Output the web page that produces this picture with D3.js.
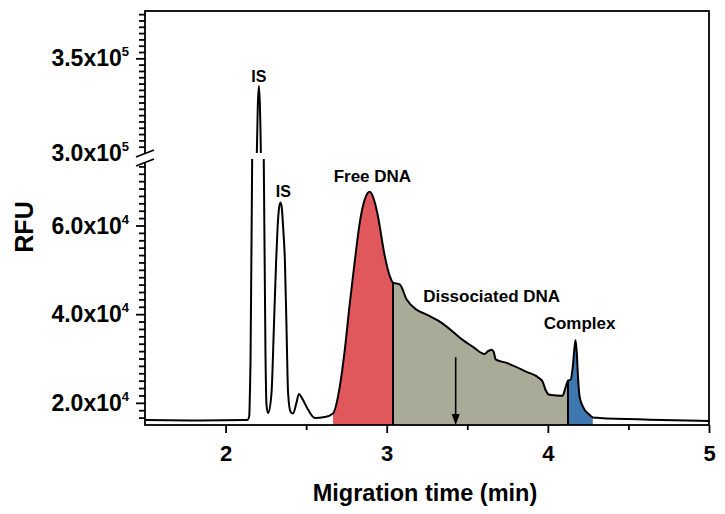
<!DOCTYPE html>
<html>
<head>
<meta charset="utf-8">
<script src="https://cdn.jsdelivr.net/npm/d3@7"></script>
<style>
  body { margin: 0; background: #fff; }
  text { font-family: "Liberation Sans", Arial, sans-serif; font-weight: bold; fill: #000; }
</style>
</head>
<body>
<svg id="chart" width="725" height="514"></svg>
<script>
// electropherogram trace (min, RFU)
var time = [1.500, 1.841, 2.120, 2.138, 2.147, 2.151, 2.155, 2.165, 2.194, 2.200, 2.207, 2.213, 2.219, 2.237, 2.248, 2.254, 2.264,
            2.285, 2.300, 2.314, 2.323, 2.332, 2.341, 2.349, 2.357, 2.368, 2.378, 2.388, 2.403,
            2.418, 2.440, 2.455, 2.475, 2.510, 2.554, 2.616,
            2.667, 2.709, 2.740, 2.771, 2.802, 2.833, 2.864, 2.895, 2.926, 2.945, 2.988, 3.019, 3.039,
            3.081, 3.124, 3.186, 3.248, 3.329, 3.409, 3.471, 3.533, 3.608, 3.626, 3.651, 3.664, 3.676, 3.744, 3.868, 3.949, 3.967, 3.986, 4.011, 4.091, 4.110,
            4.125, 4.141, 4.155, 4.166, 4.172, 4.180, 4.187, 4.197, 4.218, 4.259, 4.279,
            4.321, 4.631, 5.000];
var rfu = [16100, 16000, 16100, 16200, 17000, 22200, 29700, 75000, 300000, 325000, 335400, 325000, 300000, 75000, 30000, 19500, 17700,
           22200, 37200, 52200, 59700, 64000, 65200, 64000, 59700, 52200, 37200, 22200, 18000,
           17600, 20000, 22000, 21000, 18600, 16600, 16800,
           17600, 23700, 32000, 42500, 52000, 60700, 65900, 67600, 65200, 62200, 53100, 48600, 47100,
           46700, 43300, 41000, 39900, 38300, 36100, 34200, 32700, 31000, 31600, 32000, 31500, 29800, 29000, 27000, 25500, 24800, 22900, 21800, 21600, 23500,
           25000, 25200, 28200, 32700, 34100, 31000, 25900, 21400, 19100, 17300, 16700,
           16600, 16200, 15900];

// shaded zones: free DNA, dissociated DNA, complex
var zoneStart = [2.667, 3.039, 4.125];
var zoneEnd   = [3.039, 4.125, 4.279];

var labelText = ["IS", "IS", "Free DNA", "Dissociated DNA", "Complex"];
var labelT    = [2.207, 2.359, 2.911, 3.651, 4.197];
var labelV    = [337500, 66400, 69800, 42700, 36700];

var arrowT = 3.428, arrowTop = 30300;

var xMajor = [2, 3, 4, 5];
var xMinor = [2.5, 3.5, 4.5];
var yMajor = [20000, 40000, 60000, 300000, 350000];

// broken axis: low part and high part
var lowDomain = [15000, 75000];
var highDomain = [300000, 375000];

var zoneColor = ["#e0585b", "#aaaa99", "#3f77b1"];

var svg = d3.select("#chart");
var left = 145, right = 709, plotTop = 11, bottom = 425;
var lowTop = 159, highBottom = 153;

var x = d3.scaleLinear().domain([1.5, 5]).range([left, right]);
var yLow = d3.scaleLinear().domain(lowDomain).range([bottom, lowTop]);
var yHigh = d3.scaleLinear().domain(highDomain).range([highBottom, plotTop]);
var yAxisScale = d3.scaleLinear()
    .domain([lowDomain[0], lowDomain[1], highDomain[0], highDomain[1]])
    .range([bottom, lowTop, highBottom, plotTop]);

var pts = time.map(function(t, i) { return [t, rfu[i]]; });

var defs = svg.append("defs");
defs.append("clipPath").attr("id", "clipLow").append("rect")
    .attr("x", left).attr("y", lowTop).attr("width", right - left).attr("height", bottom - lowTop);
defs.append("clipPath").attr("id", "clipHigh").append("rect")
    .attr("x", left).attr("y", plotTop).attr("width", right - left).attr("height", highBottom - plotTop);

// filled zones
var area = d3.area()
    .x(function(d) { return x(d[0]); })
    .y0(yLow(lowDomain[0]))
    .y1(function(d) { return yLow(d[1]); })
    .curve(d3.curveMonotoneX);

zoneStart.forEach(function(s, i) {
  var sub = pts.filter(function(d) { return d[0] >= s - 1e-6 && d[0] <= zoneEnd[i] + 1e-6; });
  svg.append("path")
      .attr("d", area(sub))
      .attr("fill", zoneColor[i])
      .attr("clip-path", "url(#clipLow)");
});

// black separators between zones
[zoneStart[1], zoneStart[2]].forEach(function(s) {
  var v = rfu[time.indexOf(s)];
  svg.append("line")
      .attr("x1", x(s)).attr("x2", x(s))
      .attr("y1", yLow(v)).attr("y2", yLow(lowDomain[0]))
      .attr("stroke", "#000").attr("stroke-width", 2);
});

// trace, once per axis part
var lineLow = d3.line().x(function(d) { return x(d[0]); }).y(function(d) { return yLow(d[1]); }).curve(d3.curveMonotoneX);
var lineHigh = d3.line().x(function(d) { return x(d[0]); }).y(function(d) { return yHigh(d[1]); }).curve(d3.curveMonotoneX);

svg.append("path").attr("d", lineLow(pts))
    .attr("fill", "none").attr("stroke", "#000").attr("stroke-width", 2)
    .attr("clip-path", "url(#clipLow)");
svg.append("path").attr("d", lineHigh(pts))
    .attr("fill", "none").attr("stroke", "#000").attr("stroke-width", 2)
    .attr("clip-path", "url(#clipHigh)");

// arrow
var ax = x(arrowT), ayTop = yLow(arrowTop), ayTip = yLow(lowDomain[0]);
svg.append("line")
    .attr("x1", ax).attr("x2", ax).attr("y1", ayTop).attr("y2", ayTip - 8)
    .attr("stroke", "#000").attr("stroke-width", 1.6);
svg.append("path")
    .attr("d", "M" + (ax - 4) + "," + (ayTip - 11) + "L" + (ax + 4) + "," + (ayTip - 11) + "L" + ax + "," + ayTip + "Z")
    .attr("fill", "#000");

// frame
svg.append("rect")
    .attr("x", left).attr("y", plotTop).attr("width", right - left).attr("height", bottom - plotTop)
    .attr("fill", "none").attr("stroke", "#000").attr("stroke-width", 1.8);

// x axis
var gx = svg.append("g").attr("transform", "translate(0," + bottom + ")");
gx.call(d3.axisBottom(x).tickValues(xMajor).tickSize(8).tickSizeOuter(0).tickPadding(12).tickFormat(d3.format("d")));
gx.append("g").call(d3.axisBottom(x).tickValues(xMinor).tickSize(5).tickSizeOuter(0).tickFormat(""));
gx.selectAll(".domain").remove();
gx.selectAll(".tick line").attr("stroke-width", 1.8);
gx.selectAll(".tick text").style("font-size", "22px").style("font-family", "Liberation Sans, Arial, sans-serif").style("font-weight", "bold");

// y axis ticks
var lowStep = 20000 / 12, highStep = 50000 / 15;
var yMinor = d3.range(1, 36).map(function(k) { return lowDomain[0] + k * lowStep; })
    .concat(d3.range(-14, 8).map(function(k) { return 350000 + k * highStep; }))
    .filter(function(v) { return !yMajor.some(function(m) { return Math.abs(m - v) < 1; }); });

var gy = svg.append("g").attr("transform", "translate(" + left + ",0)");
gy.append("g").call(d3.axisLeft(yAxisScale).tickValues(yMajor.filter(function(v) { return v !== highDomain[0]; }))
    .tickSize(9).tickSizeOuter(0).tickFormat(""));
gy.append("g").call(d3.axisLeft(yAxisScale).tickValues(yMinor).tickSize(6).tickSizeOuter(0).tickFormat(""));
gy.selectAll(".domain").remove();
gy.selectAll(".tick line").attr("stroke-width", 1.8);

// y tick labels  m.mx10^e
yMajor.forEach(function(v) {
  var e = Math.floor(Math.log10(v));
  var m = (v / Math.pow(10, e)).toFixed(1);
  var t = svg.append("text")
      .attr("x", 129).attr("y", yAxisScale(v) + 8)
      .attr("text-anchor", "end")
      .style("font-size", "23px");
  t.append("tspan").text(m + "x10");
  t.append("tspan").attr("dy", -10).style("font-size", "13px").text(e);
});

// axis break mark
var bc = (lowTop + highBottom) / 2;
svg.append("path")
    .attr("d", "M" + (left - 9) + "," + (bc + 1) + "L" + (left + 9) + "," + (bc - 6) + "L" + (left + 9) + "," + (bc + 3) + "L" + (left - 9) + "," + (bc + 10) + "Z")
    .attr("fill", "#fff");
[bc - 2.5, bc + 6.5].forEach(function(yy) {
  svg.append("line")
      .attr("x1", left - 9).attr("y1", yy + 3.5)
      .attr("x2", left + 9).attr("y2", yy - 3.5)
      .attr("stroke", "#000").attr("stroke-width", 1.8);
});

// annotations
labelText.forEach(function(s, i) {
  svg.append("text")
      .attr("x", x(labelT[i])).attr("y", yAxisScale(labelV[i]))
      .attr("text-anchor", "middle")
      .style("font-size", i < 2 ? "16px" : "17px")
      .text(s);
});

// axis titles
svg.append("text")
    .attr("x", 425).attr("y", 501)
    .attr("text-anchor", "middle")
    .style("font-size", "23.5px")
    .text("Migration time (min)");
svg.append("text")
    .attr("transform", "translate(33,227) rotate(-90)")
    .attr("text-anchor", "middle")
    .style("font-size", "25px")
    .text("RFU");
</script>
</body>
</html>
